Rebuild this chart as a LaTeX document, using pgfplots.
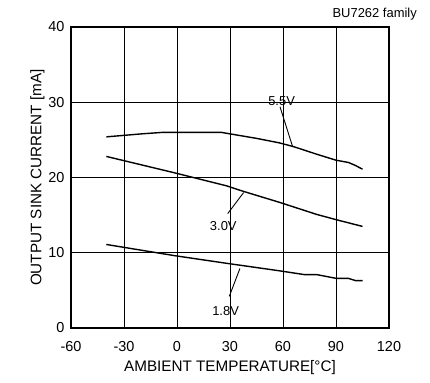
\documentclass[border=0pt]{standalone}
\usepackage{fontspec}
\setmainfont{Liberation Sans}
\usepackage{pgfplots}
\pgfplotsset{compat=1.18}

\begin{document}
\begin{tikzpicture}
\useasboundingbox (-71bp,-55bp) rectangle (359bp,328bp);
\begin{axis}[
    at={(0,0)}, anchor=south west,
    scale only axis,
    width=318bp, height=301bp,
    xmin=-60, xmax=120, ymin=0, ymax=40,
    xtick={-60,-30,...,120}, ytick={0,10,...,40},
    grid=major,
    grid style={black, line width=0.7bp},
    axis line style={line width=1.8bp},
    major tick length=0pt,
    clip=false,
    /pgf/number format/assume math mode=true,
    tick label style={font=\fontsize{14.5}{17}\selectfont},
    xticklabel style={yshift=-10bp},
    yticklabel style={xshift=-3bp},
    xlabel={AMBIENT TEMPERATURE[\textdegree{}C]},
    ylabel={OUTPUT SINK CURRENT [mA]},
    label style={font=\fontsize{15.3}{18}\selectfont},
    xlabel style={yshift=-2bp},
    ylabel style={yshift=-3bp},
  ]
\addplot[black, line width=1.4bp, no marks] coordinates {(-40,25.4) (-20,25.8) (-8,26.0)
  (25,26.0) (30,25.8) (45,25.2) (58,24.6) (66,24.1) (79,23.1) (90,22.3) (97,22.0)
  (101,21.6) (105,21.1)};
\addplot[black, line width=1.4bp, no marks] coordinates {(-40,22.8) (-1,20.6) (28,18.9)
  (37,18.2) (58,16.7) (79,15.1) (90,14.4) (105,13.5)};
\addplot[black, line width=1.4bp, no marks] coordinates {(-40,11.1) (-1,9.6) (28,8.6)
  (58,7.6) (72,7.1) (79,7.1) (90,6.6) (97,6.6) (101,6.3) (105,6.3)};
% leader lines and curve labels
\draw[line width=0.9bp] (axis cs:58.3,29.4) -- (axis cs:65.3,24.2);
\draw[line width=0.9bp] (axis cs:28.7,15.2) -- (axis cs:37.7,18.0);
\draw[line width=0.9bp] (axis cs:29.6,4.2) -- (axis cs:35.6,7.9);
\node[font=\fontsize{13}{15}\selectfont, inner sep=0pt] at (axis cs:59.2,30.2) {5.5V};
\node[font=\fontsize{13}{15}\selectfont, inner sep=0pt] at (axis cs:26.2,13.6) {3.0V};
\node[font=\fontsize{13}{15}\selectfont, inner sep=0pt] at (axis cs:27.5,2.2) {1.8V};
\node[font=\fontsize{13}{15}\selectfont, anchor=base east, inner sep=0pt]
  at ([xshift=28bp, yshift=10bp]rel axis cs:1,1) {BU7262 family};
\end{axis}
\end{tikzpicture}
\end{document}
